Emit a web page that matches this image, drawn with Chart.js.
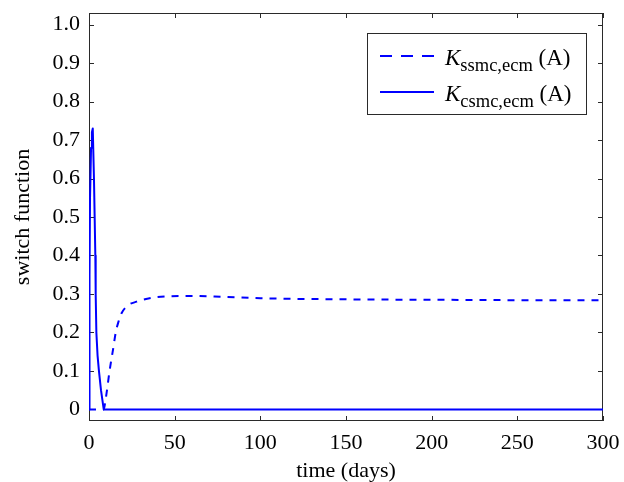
<!DOCTYPE html>
<html>
<head>
<meta charset="utf-8">
<script src="https://cdn.jsdelivr.net/npm/chart.js@4.4.1/dist/chart.umd.min.js"></script>
<style>
	html, body { margin: 0; padding: 0; background: #fff; }
	#wrap { width: 624px; height: 482px; }
</style>
</head>
<body>
<div id="wrap"><canvas id="canvas" width="624" height="482"></canvas></div>
<script>
// K_csmc,ecm (A) - solid line
var tSolid = [0, 0.3, 0.6, 1.2, 1.7, 2.2, 2.9, 3.3, 3.7, 3.9, 4.3, 5, 5.8, 7, 8.6, 300];
var kSolid = [0, 0.35, 0.55, 0.68, 0.72, 0.73, 0.6, 0.5, 0.4, 0.3, 0.2, 0.14, 0.1, 0.05, 0, 0];

// K_ssmc,ecm (A) - dashed line
var tDashed = [0, 8.6, 9.5, 10.5, 12, 14, 15.6, 17, 19, 22.6, 27.8, 36.6, 46, 60, 80, 100, 150, 200, 250, 300];
var kDashed = [0, 0, 0.02, 0.05, 0.1, 0.155, 0.2, 0.225, 0.25, 0.27, 0.28, 0.29, 0.294, 0.295, 0.292, 0.289, 0.286, 0.285, 0.284, 0.284];

var xTicks = [0, 50, 100, 150, 200, 250, 300];
var yTicks = [0, 0.1, 0.2, 0.3, 0.4, 0.5, 0.6, 0.7, 0.8, 0.9, 1.0];

var legendNames = [
	{main: "K", sub: "ssmc,ecm", tail: " (A)", dash: [12, 9]},
	{main: "K", sub: "csmc,ecm", tail: " (A)", dash: []}
];

var serif = "'Liberation Serif', 'DejaVu Serif', serif";
var blue = "#0000ff";

function toPoints(xs, ys){
	var pts = [];
	for(var i = 0; i < xs.length; i++){
		pts.push({x: xs[i], y: ys[i]});
	}
	return pts;
}

// box round the plot, with ticks pointing inward on all four sides
var framePlugin = {
	id: "frame",
	beforeDatasetsDraw: function(chart){
		var ctx = chart.ctx;
		var a = chart.chartArea;
		var xs = chart.scales.x, ys = chart.scales.y;
		ctx.save();
		ctx.strokeStyle = "#2a2a2a";
		ctx.lineWidth = 1;
		ctx.strokeRect(a.left + 0.5, a.top + 0.5, a.right - a.left - 1, a.bottom - a.top - 1);
		ctx.beginPath();
		for(var i = 0; i < xTicks.length; i++){
			var px = Math.round(xs.getPixelForValue(xTicks[i])) + 0.5;
			ctx.moveTo(px, a.bottom); ctx.lineTo(px, a.bottom - 5);
			ctx.moveTo(px, a.top); ctx.lineTo(px, a.top + 5);
		}
		for(var j = 0; j < yTicks.length; j++){
			var py = Math.round(ys.getPixelForValue(yTicks[j])) + 0.5;
			ctx.moveTo(a.left, py); ctx.lineTo(a.left + 5, py);
			ctx.moveTo(a.right, py); ctx.lineTo(a.right - 5, py);
		}
		ctx.stroke();
		ctx.restore();
	}
};

// legend with subscripts, drawn by hand
var legendPlugin = {
	id: "subLegend",
	afterDatasetsDraw: function(chart){
		var ctx = chart.ctx;
		var bx = 367, by = 33, bw = 219, bh = 81;
		ctx.save();
		ctx.fillStyle = "#fff";
		ctx.fillRect(bx, by, bw, bh);
		ctx.strokeStyle = "#2a2a2a";
		ctx.lineWidth = 1;
		ctx.strokeRect(bx + 0.5, by + 0.5, bw, bh);
		for(var i = 0; i < legendNames.length; i++){
			var item = legendNames[i];
			var cy = by + 23 + i * 36;
			ctx.beginPath();
			ctx.setLineDash(item.dash);
			ctx.strokeStyle = blue;
			ctx.lineWidth = 2;
			ctx.moveTo(380, cy);
			ctx.lineTo(434, cy);
			ctx.stroke();
			ctx.setLineDash([]);
			ctx.fillStyle = "#000";
			ctx.textBaseline = "alphabetic";
			var x = 445, base = cy + 9;
			ctx.font = "italic 23px " + serif;
			ctx.fillText(item.main, x, base);
			x += ctx.measureText(item.main).width;
			ctx.font = "18.5px " + serif;
			ctx.fillText(item.sub, x, base + 6);
			x += ctx.measureText(item.sub).width;
			ctx.font = "23px " + serif;
			ctx.fillText(item.tail, x, base);
		}
		ctx.restore();
	}
};

var config = {
	type: "line",
	data: {
		datasets: [
			{
				label: "K_ssmc,ecm (A)",
				data: toPoints(tDashed, kDashed),
				borderColor: blue,
				borderWidth: 2,
				borderDash: [7, 7],
				pointRadius: 0,
				cubicInterpolationMode: "monotone",
				fill: false
			},
			{
				label: "K_csmc,ecm (A)",
				data: toPoints(tSolid, kSolid),
				borderColor: blue,
				borderWidth: 2,
				borderJoinStyle: "round",
				pointRadius: 0,
				tension: 0,
				fill: false
			}
		]
	},
	options: {
		responsive: false,
		animation: false,
		layout: {padding: {left: 0, top: 13, right: 21, bottom: 0}},
		plugins: {legend: {display: false}, tooltip: {enabled: false}},
		scales: {
			x: {
				type: "linear",
				min: 0,
				max: 300,
				afterFit: function(s){ s.height = 61; s.paddingLeft = 0; s.paddingRight = 0; },
				afterBuildTicks: function(s){ s.ticks = xTicks.map(function(v){ return {value: v}; }); },
				grid: {drawOnChartArea: false, drawTicks: false},
				border: {display: false},
				ticks: {color: "#000", padding: 9, font: {family: serif, size: 22}, maxRotation: 0,
					callback: function(v){ return String(v); }},
				title: {display: true, text: "time (days)", color: "#000",
					font: {family: serif, size: 22, lineHeight: 1}, padding: {top: 0, bottom: 0}}
			},
			y: {
				type: "linear",
				min: -0.03,
				max: 1.03,
				afterFit: function(s){ s.width = 89; s.paddingTop = 0; s.paddingBottom = 0; },
				afterBuildTicks: function(s){ s.ticks = yTicks.map(function(v){ return {value: v}; }); },
				grid: {drawOnChartArea: false, drawTicks: false},
				border: {display: false},
				ticks: {color: "#000", padding: 9, font: {family: serif, size: 22},
					callback: function(v){ return v === 0 ? "0" : v.toFixed(1); }},
				title: {display: true, text: "switch function", color: "#000",
					font: {family: serif, size: 22, lineHeight: 1.2}, padding: {top: 10, bottom: 0}}
			}
		}
	},
	plugins: [framePlugin, legendPlugin]
};

var chart = new Chart(document.getElementById("canvas").getContext("2d"), config);
</script>
</body>
</html>
